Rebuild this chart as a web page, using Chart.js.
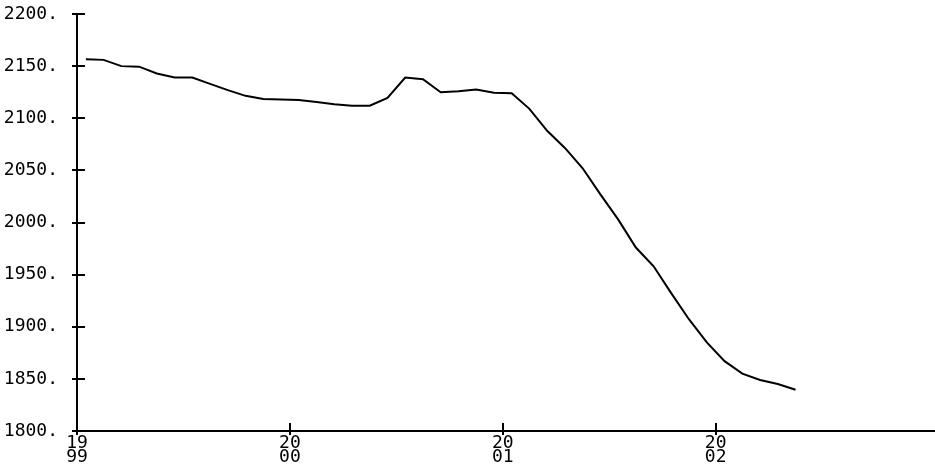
<!DOCTYPE html>
<html>
<head>
<meta charset="utf-8">
<script src="https://cdn.jsdelivr.net/npm/chart.js@4"></script>
<style>
  html, body { margin: 0; padding: 0; background: #fff; }
  #wrap { width: 935px; height: 474px; }
</style>
</head>
<body>
<div id="wrap"><canvas id="chart"></canvas></div>
<script>
// monthly readings, Jan 1999 .. May 2002
const months = [
  "1999-01","1999-02","1999-03","1999-04","1999-05","1999-06","1999-07","1999-08","1999-09","1999-10","1999-11","1999-12",
  "2000-01","2000-02","2000-03","2000-04","2000-05","2000-06","2000-07","2000-08","2000-09","2000-10","2000-11","2000-12",
  "2001-01","2001-02","2001-03","2001-04","2001-05","2001-06","2001-07","2001-08","2001-09","2001-10","2001-11","2001-12",
  "2002-01","2002-02","2002-03","2002-04","2002-05"
];
const values = [
  2156.5, 2156, 2150, 2149.5, 2143, 2139, 2139, 2133, 2127, 2121.5, 2118.5, 2118,
  2117.5, 2115.5, 2113.5, 2112, 2112, 2119.5, 2139, 2137.5, 2125, 2126, 2127.5, 2124.5,
  2124, 2109, 2088, 2071.5, 2052, 2027, 2003, 1976, 1958, 1932, 1907, 1885,
  1867, 1855, 1849, 1845, 1839.5
];
const yearTicks = [1999, 2000, 2001, 2002];
const yTicks = [1800, 1850, 1900, 1950, 2000, 2050, 2100, 2150, 2200];

// month string -> decimal year (middle of the month)
function toYear(m) {
  const [y, mo] = m.split("-").map(Number);
  return y + (mo - 0.5) / 12;
}
const points = months.map((m, i) => ({ x: toYear(m), y: values[i] }));

const font = { family: "'DejaVu Sans Mono', monospace", size: 18 };

// short tick marks on the inner side of both axes
const innerTicks = {
  id: "innerTicks",
  afterDraw(c) {
    const ctx = c.ctx, xs = c.scales.x, ys = c.scales.y, a = c.chartArea;
    ctx.save();
    ctx.strokeStyle = "#000";
    ctx.lineWidth = 2;
    ctx.beginPath();
    yTicks.forEach(v => {
      const py = Math.round(ys.getPixelForValue(v));
      ctx.moveTo(a.left, py);
      ctx.lineTo(a.left + 8, py);
    });
    yearTicks.forEach(v => {
      const px = Math.round(xs.getPixelForValue(v));
      ctx.moveTo(px, a.bottom);
      ctx.lineTo(px, a.bottom - 8);
    });
    ctx.stroke();
    ctx.restore();
  }
};

new Chart(document.getElementById("chart"), {
  type: "line",
  data: {
    datasets: [{
      data: points,
      borderColor: "#000",
      borderWidth: 2,
      pointRadius: 0,
      tension: 0,
      fill: false
    }]
  },
  options: {
    responsive: true,
    maintainAspectRatio: false,
    animation: false,
    layout: { padding: { top: 14, right: 0, left: 0, bottom: 0 } },
    plugins: { legend: { display: false }, tooltip: { enabled: false } },
    scales: {
      x: {
        type: "linear",
        min: 1999,
        max: 2003.03,
        afterBuildTicks: s => { s.ticks = yearTicks.map(v => ({ value: v })); },
        afterFit: s => { s.height = 43; s.paddingLeft = 0; s.paddingRight = 0; },
        grid: { drawOnChartArea: false, tickLength: 4, color: "#000", lineWidth: 2 },
        border: { display: true, color: "#000", width: 2 },
        ticks: {
          color: "#000",
          font: { ...font, lineHeight: 0.78 },
          padding: 1,
          maxRotation: 0,
          callback: v => { const s = String(v); return [s.slice(0, 2), s.slice(2)]; }
        }
      },
      y: {
        min: 1800,
        max: 2200,
        afterBuildTicks: s => { s.ticks = yTicks.map(v => ({ value: v })); },
        afterFit: s => { s.width = 77; s.paddingTop = 0; s.paddingBottom = 0; },
        grid: { drawOnChartArea: false, tickLength: 5, color: "#000", lineWidth: 2 },
        border: { display: true, color: "#000", width: 2 },
        ticks: {
          color: "#000",
          font: font,
          padding: 14,
          callback: v => v + "."
        }
      }
    }
  },
  plugins: [innerTicks]
});
</script>
</body>
</html>
